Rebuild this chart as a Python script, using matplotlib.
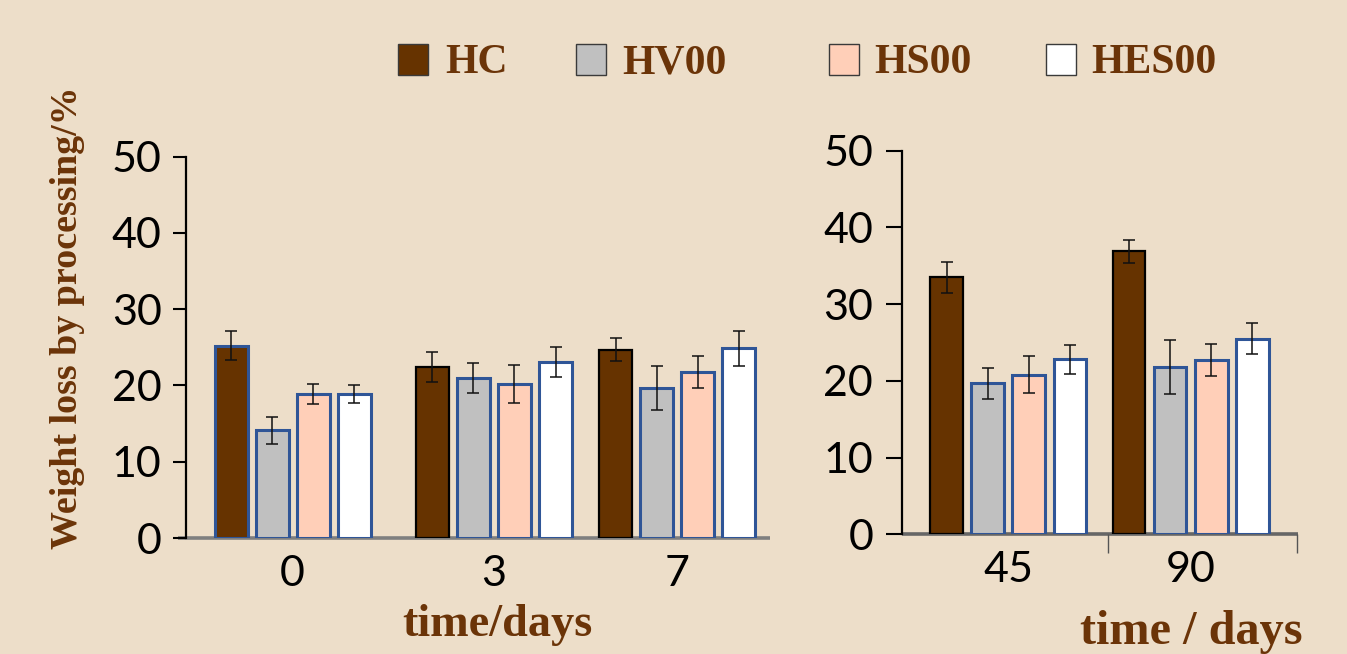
import matplotlib
matplotlib.use("Agg")
import matplotlib.pyplot as plt
from matplotlib.patches import Rectangle
from matplotlib import font_manager

# ---- data -------------------------------------------------------------
series = ["HC", "HV00", "HS00", "HES00"]
fill_colors = ["#663300", "#C0C0C0", "#FFCFB8", "#FFFFFF"]

days_short = ["0", "3", "7"]
hc_short = [25.2, 22.4, 24.7]
hv00_short = [14.1, 21.0, 19.7]
hs00_short = [18.9, 20.2, 21.8]
hes00_short = [18.9, 23.1, 24.9]
hc_short_err = [1.9, 2.0, 1.5]
hv00_short_err = [1.8, 2.0, 2.9]
hs00_short_err = [1.3, 2.5, 2.1]
hes00_short_err = [1.2, 2.0, 2.3]

days_long = ["45", "90"]
hc_long = [33.5, 36.9]
hv00_long = [19.7, 21.8]
hs00_long = [20.8, 22.7]
hes00_long = [22.8, 25.5]
hc_long_err = [2.0, 1.5]
hv00_long_err = [2.0, 3.5]
hs00_long_err = [2.4, 2.1]
hes00_long_err = [1.9, 2.0]

yticks = [0, 10, 20, 30, 40, 50]

# ---- style ------------------------------------------------------------
BG = "#EDDEC9"
BROWN_TEXT = "#6B3408"
BLUE_EDGE = "#2F5597"
BASE_GRAY = "#7F7F7F"


def pick_family(candidates):
    names = {f.name for f in font_manager.fontManager.ttflist}
    for c in candidates:
        if c in names:
            return c
    return "DejaVu Serif"


SLAB = pick_family(["Liberation Serif", "DejaVu Serif"])
SANS = pick_family(["Lato", "Open Sans", "DejaVu Sans"])

W, H = 1347, 654
fig = plt.figure(figsize=(W / 100, H / 100), dpi=100, facecolor=BG)


def fig_box(x0, x1, y_top, y_bottom):
    return [x0 / W, 1 - y_bottom / H, (x1 - x0) / W, (y_bottom - y_top) / H]


ax1 = fig.add_axes(fig_box(186, 770, 156.7, 538))
ax2 = fig.add_axes(fig_box(901.7, 1297.7, 150.7, 534.3))

offsets = [-1.5, -0.5, 0.5, 1.5]
bar_w = 0.8


def draw_panel(ax, centers, labels, means, errs, hc_edges, xlim, tick_len, label_pad):
    ax.set_facecolor("none")
    for k, (vals, err) in enumerate(zip(means, errs)):
        xs = [c + offsets[k] for c in centers]
        if k == 0:
            edges = hc_edges
            lws = [2.2 if e == BLUE_EDGE else 1.6 for e in edges]
        else:
            edges = [BLUE_EDGE] * len(xs)
            lws = [2.2] * len(xs)
        ax.bar(xs, vals, width=bar_w, color=fill_colors[k], edgecolor=edges,
               linewidth=lws, zorder=2)
        ax.errorbar(xs, vals, yerr=err, fmt="none", ecolor="#111111",
                    elinewidth=1.1, capsize=4.5, capthick=1.1, zorder=3)
    ax.set_xlim(*xlim)
    ax.set_ylim(0, 50)
    ax.set_yticks(yticks)
    ax.set_yticklabels([str(v) for v in yticks], fontsize=31, family=SANS)
    ax.set_xticks(centers)
    ax.set_xticklabels(labels, fontsize=31, family=SANS)
    ax.tick_params(axis="x", length=0, pad=12)
    ax.tick_params(axis="y", direction="out", length=tick_len, width=1.5,
                   color="black", pad=label_pad)
    for s in ["top", "right", "bottom"]:
        ax.spines[s].set_visible(False)
    ax.spines["left"].set_linewidth(1.6)
    ax.spines["left"].set_color("black")


draw_panel(
    ax1, [0.0, 4.91, 9.38], days_short,
    [hc_short, hv00_short, hs00_short, hes00_short],
    [hc_short_err, hv00_short_err, hs00_short_err, hes00_short_err],
    [BLUE_EDGE, "black", "black"], (-2.6, 11.64), 9.5, 8,
)
draw_panel(
    ax2, [0.0, 4.44], days_long,
    [hc_long, hv00_long, hs00_long, hes00_long],
    [hc_long_err, hv00_long_err, hs00_long_err, hes00_long_err],
    ["black", "black"], (-2.6, 7.05), 11.5, 9,
)

# gray base lines
ax1.plot([-0.014, 1.0], [0, 0], transform=ax1.get_yaxis_transform(),
         color=BASE_GRAY, lw=2.6, clip_on=False, zorder=1, solid_capstyle="butt")
ax2.plot([0.0, 1.0], [0, 0], transform=ax2.get_yaxis_transform(),
         color="#666666", lw=2.6, clip_on=False, zorder=1, solid_capstyle="butt")
# category separators on the right panel
ax2.set_xticks([2.42, 7.04], minor=True)
ax2.tick_params(axis="x", which="minor", direction="out", length=14,
                width=1.0, color="#555555")

# ---- slab-serif texts -------------------------------------------------
fig.canvas.draw()
renderer = fig.canvas.get_renderer()


def slab_text(x, y, s, target_px, size, vertical=False, **kw):
    t = fig.text(x / W, 1 - y / H, s, family=SLAB, weight="bold",
                 color=BROWN_TEXT, fontsize=size,
                 rotation=90 if vertical else 0, **kw)
    bb = t.get_window_extent(renderer)
    span = bb.height if vertical else bb.width
    if span > target_px:
        t.set_fontsize(size * target_px / span)
    return t


slab_text(68, 318, "Weight loss by processing/%", 462, 40, vertical=True,
          ha="center", va="center")
slab_text(497, 636, "time/days", 190, 40, ha="center", va="baseline")
slab_text(1191, 644, "time / days", 222, 40, ha="center", va="baseline")

# legend: one common text size, fitted to the longest label
legend_boxes = [398, 576, 829, 1046]
legend_texts = [445, 622, 874, 1091]
legend_widths = [52, 104, 104, 126]
legend_labels = []
for k, name in enumerate(series):
    fig.patches.append(Rectangle((legend_boxes[k] / W, 1 - 75 / H), 30 / W, 31 / H,
                                 transform=fig.transFigure, facecolor=fill_colors[k],
                                 edgecolor="#3A3A3A", linewidth=1.0))
    legend_labels.append(slab_text(legend_texts[k], 73, name, legend_widths[k], 36,
                                   ha="left", va="baseline"))
common = min(t.get_fontsize() for t in legend_labels[1:])
for t in legend_labels:
    t.set_fontsize(common)

fig.savefig("out.png", dpi=100, facecolor=BG)
